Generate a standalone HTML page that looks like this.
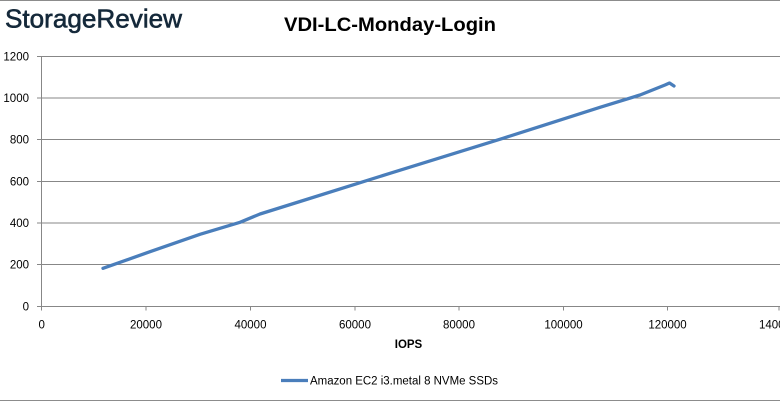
<!DOCTYPE html>
<html>
<head>
<meta charset="utf-8">
<style>
  html,body{margin:0;padding:0;background:#fff;}
  body{width:780px;height:401px;overflow:hidden;}
  svg{display:block;}
  text{font-family:"Liberation Sans", Arial, sans-serif;}
</style>
</head>
<body>
<svg width="780" height="401" viewBox="0 0 780 401" xmlns="http://www.w3.org/2000/svg">
  <rect x="0" y="0" width="780" height="401" fill="#ffffff"/>
  <!-- borders -->
  <rect x="0" y="0" width="780" height="1" fill="#8c8c8c"/>
  <rect x="0" y="400" width="780" height="1" fill="#8c8c8c"/>

  <!-- logo -->
  <text x="5" y="27.5" font-size="26" fill="#15293a" stroke="#15293a" stroke-width="0.6" textLength="177" lengthAdjust="spacingAndGlyphs">StorageReview</text>

  <!-- title -->
  <text x="284" y="31" font-size="19.5" font-weight="bold" fill="#000" textLength="212" lengthAdjust="spacingAndGlyphs">VDI-LC-Monday-Login</text>

  <!-- gridlines -->
  <g stroke="#878787" stroke-width="1" fill="none">
    <line x1="37" y1="56.5" x2="780" y2="56.5"/>
    <line x1="37" y1="98" x2="780" y2="98"/>
    <line x1="37" y1="139.5" x2="780" y2="139.5"/>
    <line x1="37" y1="181.5" x2="780" y2="181.5"/>
    <line x1="37" y1="223" x2="780" y2="223"/>
    <line x1="37" y1="264.5" x2="780" y2="264.5"/>
    <line x1="37" y1="306.5" x2="780" y2="306.5"/>
    <!-- y axis -->
    <line x1="41.5" y1="56" x2="41.5" y2="310.5"/>
    <!-- x ticks -->
    <line x1="146" y1="306" x2="146" y2="310.5"/>
    <line x1="250.5" y1="306" x2="250.5" y2="310.5"/>
    <line x1="355" y1="306" x2="355" y2="310.5"/>
    <line x1="459" y1="306" x2="459" y2="310.5"/>
    <line x1="563.5" y1="306" x2="563.5" y2="310.5"/>
    <line x1="667.5" y1="306" x2="667.5" y2="310.5"/>
    <line x1="779" y1="306" x2="779" y2="310.5"/>
  </g>

  <!-- y labels -->
  <g font-size="11.5" fill="#000" text-anchor="end">
    <text x="29" y="60.5">1200</text>
    <text x="29" y="102">1000</text>
    <text x="29" y="143.5">800</text>
    <text x="29" y="185.5">600</text>
    <text x="29" y="227">400</text>
    <text x="29" y="268.5">200</text>
    <text x="29" y="310.5">0</text>
  </g>

  <!-- x labels -->
  <g font-size="11.5" fill="#000" text-anchor="middle">
    <text x="41.7" y="328.5">0</text>
    <text x="146" y="328.5">20000</text>
    <text x="250.5" y="328.5">40000</text>
    <text x="355" y="328.5">60000</text>
    <text x="459" y="328.5">80000</text>
    <text x="563.5" y="328.5">100000</text>
    <text x="667.5" y="328.5">120000</text>
  </g>
  <text x="759" y="328.5" font-size="11.5" fill="#000">140000</text>

  <!-- x axis title -->
  <text x="408.5" y="348" font-size="11.5" font-weight="bold" fill="#000" text-anchor="middle">IOPS</text>

  <!-- series -->
  <polyline fill="none" stroke="#4a7ebb" stroke-width="3.3" stroke-linejoin="round" stroke-linecap="round"
    points="103,268.3 150,251.7 200,234.3 240,222.3 260,214 300,201.5 390,173.3 503,138.3 600,107.3 640,95 665,85 669.5,83 674,86"/>

  <!-- legend -->
  <line x1="281" y1="380.5" x2="308" y2="380.5" stroke="#4a7ebb" stroke-width="3.3"/>
  <text x="310" y="384.5" font-size="11.5" fill="#000" textLength="188" lengthAdjust="spacingAndGlyphs">Amazon EC2 i3.metal 8 NVMe SSDs</text>
</svg>
</body>
</html>
